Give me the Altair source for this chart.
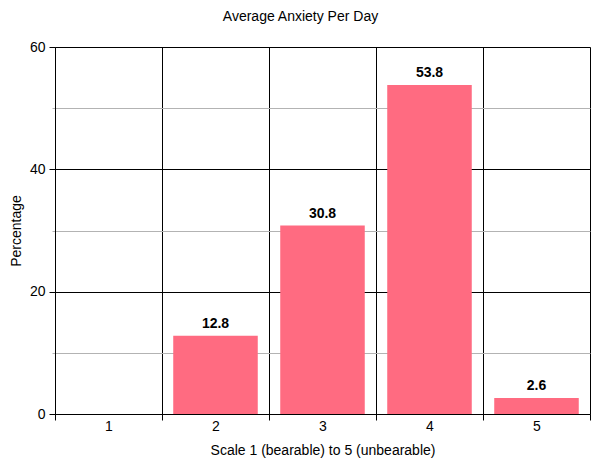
import altair as alt
import pandas as pd

categories = ["1", "2", "3", "4", "5"]
values = [0, 12.8, 30.8, 53.8, 2.6]
labels = ["", "12.8", "30.8", "53.8", "2.6"]
y_ticks = [0, 10, 20, 30, 40, 50, 60]

df = pd.DataFrame({"scale": categories, "pct": values, "label": labels})

FONT = "Liberation Sans"
FS = 14

x_enc = alt.X(
    "scale:N",
    sort=categories,
    scale=alt.Scale(paddingInner=0, paddingOuter=0),
    axis=alt.Axis(
        title="Scale 1 (bearable) to 5 (unbearable)",
        labelAngle=0,
        tickBand="extent",
        grid=True,
        gridColor="black",
        gridWidth=1,
        tickColor="black",
        tickSize=6,
        domainColor="black",
        labelFontSize=FS,
        labelPadding=-1,
        titleFontSize=FS,
        titleFontWeight="normal",
        titlePadding=10,
        labelFont=FONT,
        titleFont=FONT,
        labelColor="black",
        titleColor="black",
    ),
)

y_enc = alt.Y(
    "pct:Q",
    scale=alt.Scale(domain=[0, 60], nice=False),
    axis=alt.Axis(
        title="Percentage",
        values=y_ticks,
        labelExpr="datum.value % 20 === 0 ? datum.label : ''",
        gridColor={"condition": {"test": "datum.value % 20 === 0", "value": "black"}, "value": "#b3b3b3"},
        tickColor={"condition": {"test": "datum.value % 20 === 0", "value": "black"}, "value": "#b3b3b3"},
        tickSize={"condition": {"test": "datum.value % 20 === 0", "value": 6}, "value": 3},
        grid=True,
        domainColor="black",
        labelFontSize=FS,
        labelPadding=4,
        titleFontSize=FS,
        titleFontWeight="normal",
        titlePadding=6,
        labelFont=FONT,
        titleFont=FONT,
        labelColor="black",
        titleColor="black",
    ),
)

bars = alt.Chart(df).mark_bar(color="#FF6B81", width=alt.RelativeBandSize(0.79)).encode(x=x_enc, y=y_enc)

text = alt.Chart(df).mark_text(
    baseline="bottom", dy=-5, fontSize=FS, fontWeight="bold", font=FONT, color="black"
).encode(x=alt.X("scale:N", sort=categories), y=alt.Y("pct:Q"), text="label:N")

chart = alt.layer(bars, text).properties(
    width=535,
    height=367,
    autosize=alt.AutoSizeParams(type="none"),
    padding={"left": 47, "top": 39, "right": 2, "bottom": 47},
    title=alt.TitleParams(
        "Average Anxiety Per Day",
        fontSize=FS,
        fontWeight="normal",
        font=FONT,
        color="black",
        anchor="middle",
        dx=-22,
        offset=16,
    ),
).configure_view(stroke="black", strokeWidth=1).configure(background="white")

chart.save("out.html", embed_options={"renderer": "svg", "actions": False})
